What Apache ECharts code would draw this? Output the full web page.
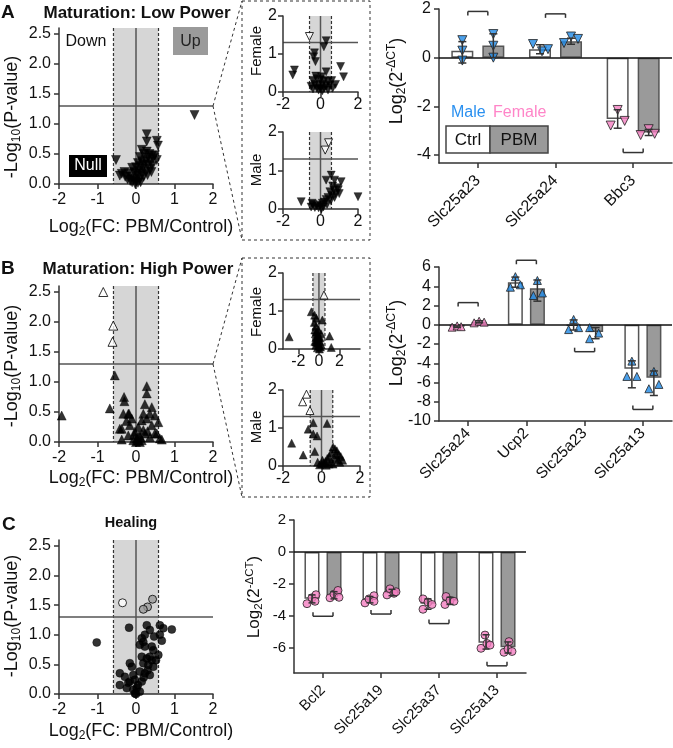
<!DOCTYPE html>
<html>
<head>
<meta charset="utf-8">
<title>Volcano and bar panels</title>
<script src="https://cdn.jsdelivr.net/npm/echarts@6.0.0/dist/echarts.min.js"></script>
<style>
html,body{margin:0;padding:0;background:#ffffff;}
#chart{width:673px;height:748px;}
</style>
</head>
<body>
<div id="chart"></div>
<script>
// ================= DATA =================
const FC_CUT = 0.585;   // log2(1.5)
const P_CUT = 1.3;      // -log10(0.05)

// ---- Panel A: Maturation, Low Power (volcano, all) ----
const volA = [[1.52,1.15],[-0.52,0.40],[0.28,0.83],[0.28,0.71],[0.54,0.72],[0.57,0.64],[0.15,0.57],[0.28,0.54],[0.20,0.50],[0.35,0.50],[0.41,0.47],[0.54,0.40],[0.45,0.43],[0.10,0.45],[0.32,0.44],[0.25,0.40],[0.38,0.37],[0.15,0.38],[0.05,0.35],[0.22,0.33],[0.30,0.32],[0.42,0.30],[0.12,0.30],[0.00,0.28],[-0.10,0.27],[0.18,0.26],[0.35,0.25],[0.08,0.22],[-0.05,0.20],[0.25,0.20],[-0.20,0.18],[0.15,0.17],[-0.37,0.17],[-0.28,0.12],[0.05,0.14],[-0.12,0.12],[0.20,0.12],[-0.22,0.08],[-0.05,0.08],[0.10,0.08],[0.00,0.05],[-0.15,0.05],[0.05,0.02],[-0.02,0.00],[0.12,0.03],[0.30,0.15],[0.40,0.20],[-0.30,0.20],[-0.42,0.14],[0.02,0.18],[-0.10,0.03],[0.49,0.48]];
const volA_female = [[0.30,1.35],[0.18,1.19],[-0.32,1.03],[-0.36,0.93],[-0.27,0.80],[-1.39,0.58],[-1.48,0.45],[1.07,0.67],[1.23,0.40],[0.30,0.53],[-0.40,0.30],[-0.20,0.35],[0.00,0.32],[0.20,0.30],[0.40,0.28],[0.60,0.30],[0.80,0.20],[-0.50,0.15],[-0.30,0.20],[-0.10,0.18],[0.10,0.20],[0.30,0.15],[0.50,0.18],[-0.20,0.10],[0.00,0.08],[0.20,0.10],[0.40,0.05],[-0.40,0.08],[0.10,0.03],[-0.10,0.05],[0.65,0.10],[-0.25,0.42],[0.05,0.40]];
const volA_female_sig = [[-0.59,1.46]];
const volA_male = [[0.57,0.88],[0.30,0.75],[0.75,0.75],[1.10,0.71],[2.00,0.32],[-1.03,0.19],[0.90,0.55],[0.70,0.50],[0.50,0.45],[0.80,0.40],[0.60,0.35],[1.00,0.40],[0.40,0.30],[0.30,0.25],[0.55,0.22],[0.20,0.18],[0.10,0.15],[0.35,0.12],[0.00,0.10],[-0.20,0.08],[-0.40,0.12],[-0.50,0.05],[-0.30,0.04],[-0.10,0.03],[0.15,0.05],[0.05,0.00],[0.75,0.30],[0.95,0.50],[0.65,0.60],[-0.45,0.15]];
const volA_male_sig = [[0.43,1.72],[0.25,1.53]];

// ---- Panel B: Maturation, High Power ----
const volB = [[-0.55,1.11],[-1.93,0.44],[-0.68,0.56],[-0.31,0.75],[-0.30,0.68],[0.28,0.93],[0.28,0.81],[0.23,0.63],[0.41,0.58],[-0.33,0.47],[-0.18,0.47],[0.36,0.47],[0.49,0.44],[-0.11,0.39],[0.15,0.36],[0.28,0.39],[0.58,0.33],[-0.42,0.22],[-0.16,0.28],[0.06,0.25],[0.41,0.28],[-0.03,0.17],[0.19,0.20],[0.49,0.14],[-0.20,0.11],[-0.37,0.04],[0.02,0.06],[0.15,0.03],[0.62,0.06],[0.36,0.08],[-0.07,0.03],[0.08,0.11],[0.23,0.14],[0.54,0.14],[0.67,0.04],[0.19,0.47],[-0.20,0.47],[-0.37,0.22],[0.00,0.00],[0.10,0.00],[-0.05,0.12],[0.12,0.08],[0.30,0.18],[-0.25,0.35],[0.05,0.02]];
const volB_sig = [[-0.85,2.50],[-0.59,1.94],[-0.61,1.67]];
const volB_female = [[-0.74,0.98],[-0.42,0.89],[-0.25,0.81],[0.33,0.76],[-2.90,0.32],[1.04,0.34],[1.20,0.04],[-0.30,0.60],[-0.40,0.50],[-0.20,0.45],[-0.35,0.40],[-0.10,0.35],[-0.30,0.30],[0.00,0.30],[-0.20,0.25],[-0.40,0.20],[0.10,0.20],[-0.10,0.15],[0.20,0.12],[-0.30,0.10],[0.00,0.08],[0.15,0.05],[-0.15,0.03],[0.05,0.00],[-0.05,0.50],[0.20,0.40],[-0.45,0.70],[-0.25,0.18],[0.10,0.30]];
const volB_female_sig = [[0.49,1.42]];
const volB_male = [[-0.43,1.14],[-0.69,0.97],[-0.43,0.84],[-0.23,0.79],[0.29,1.12],[-1.55,0.60],[-0.95,0.29],[-0.35,0.38],[0.60,0.50],[0.70,0.45],[0.80,0.40],[0.90,0.30],[1.00,0.25],[1.10,0.15],[0.50,0.35],[0.40,0.25],[0.30,0.20],[0.20,0.12],[0.10,0.08],[0.00,0.05],[-0.10,0.03],[0.25,0.02],[0.50,0.10],[0.70,0.20],[0.85,0.15],[-0.20,0.10],[0.05,0.15],[0.60,0.05],[0.40,0.05],[0.95,0.10],[0.75,0.30]];
const volB_male_sig = [[-0.78,1.89],[-0.98,1.69],[-0.60,1.46]];

// ---- Panel C: Healing ----
const volC = [[-0.18,1.12],[0.28,1.16],[0.62,1.16],[0.71,1.11],[0.93,1.09],[0.36,1.08],[0.23,1.00],[0.15,0.94],[0.19,0.88],[0.62,1.00],[-1.02,0.87],[0.10,0.83],[0.23,0.80],[0.45,0.74],[0.58,0.66],[0.15,0.63],[0.28,0.60],[0.41,0.57],[0.19,0.52],[0.32,0.49],[0.45,0.46],[-0.16,0.52],[-0.11,0.46],[0.10,0.38],[0.23,0.35],[0.36,0.32],[-0.07,0.32],[-0.42,0.35],[-0.16,0.21],[-0.03,0.24],[0.15,0.21],[-0.29,0.29],[-0.42,0.15],[-0.24,0.10],[-0.07,0.07],[0.02,0.10],[0.10,0.04],[-0.03,0.01],[-0.20,0.19],[0.41,0.80],[0.47,0.97],[0.67,0.90],[0.36,0.63],[0.52,0.57],[0.05,0.15],[0.20,0.28],[0.30,0.40],[0.00,0.00]];
const volC_sigDown = [[-0.35,1.54]];
const volC_sigUp = [[0.43,1.60],[0.30,1.47],[0.19,1.43]];

// ---- Bar panels: Log2(2^-dCT) ----
const barA_cats = ['Slc25a23','Slc25a24','Bbc3'];
const barA_ctrl = [0.28, 0.35, -2.52];
const barA_pbm  = [0.50, 0.67, -3.08];
const barA_ctrlErr = [[-0.22,0.66],[0.16,0.53],[-2.90,-2.14]];
const barA_pbmErr  = [[0.00,0.98],[0.55,0.80],[-3.20,-2.95]];
const barA_ctrlPts = [[0.72,0.29,-0.12],[0.56,0.26,0.35],[-2.79,-2.15,-2.60]];
const barA_pbmPts  = [[0.97,0.49,0.00],[0.60,0.87,0.77],[-3.18,-2.94,-3.13]];
const barA_sex = ['M','M','F'];
const barA_brackets = [1.90, 1.80, -3.90];

const barB_cats = ['Slc25a24','Ucp2','Slc25a23','Slc25a13'];
const barB_ctrl = [-0.20, 4.42, -0.10, -4.57];
const barB_pbm  = [0.30, 3.80, -0.75, -5.50];
const barB_ctrlErr = [[-0.28,-0.12],[3.90,4.95],[-0.55,0.50],[-6.55,-3.75]];
const barB_pbmErr  = [[0.20,0.42],[2.45,4.65],[-1.45,-0.30],[-7.35,-4.80]];
const barB_ctrlPts = [[-0.25,-0.12,-0.20],[3.90,5.00,4.15],[-0.50,0.55,-0.30],[-5.37,-3.78,-5.37]];
const barB_pbmPts  = [[0.20,0.37,0.27],[3.04,4.60,3.30],[-0.30,-1.45,-0.87],[-6.65,-4.85,-6.20]];
const barB_sex = ['F','M','M','M'];
const barB_brackets = [2.30, 6.70, -2.80, -8.80];

const barC_cats = ['Bcl2','Slc25a19','Slc25a37','Slc25a13'];
const barC_ctrl = [-2.94, -3.00, -3.25, -5.70];
const barC_pbm  = [-2.73, -2.60, -3.05, -5.98];
const barC_ctrlErr = [[-3.20,-2.70],[-3.20,-2.80],[-3.60,-2.95],[-6.10,-5.20]];
const barC_pbmErr  = [[-2.95,-2.50],[-2.75,-2.35],[-3.30,-2.85],[-6.35,-5.65]];
const barC_ctrlPts = [[-3.25,-2.88,-2.69,-3.10],[-3.20,-2.95,-2.75,-3.10],[-3.60,-2.95,-3.15,-3.30],[-6.05,-5.22,-5.75,-5.85]];
const barC_pbmPts  = [[-2.88,-2.65,-2.42,-2.85],[-2.70,-2.32,-2.60,-2.50],[-2.80,-3.30,-3.05,-3.10],[-6.30,-5.63,-6.10,-6.25]];
const barC_sex = ['F','F','F','F'];
const barC_brackets = [-4.04, -3.90, -4.50, -7.15];

// tick label values
const volX_ticks = [-2,-1,0,1,2];
const volY_ticks = [0,0.5,1,1.5,2,2.5];
const insetX_ticks = [-2,0,2];
const insetY_ticks = [0,1,2];
const barA_ticks = [-4,-2,0,2];
const barB_ticks = [-10,-8,-6,-4,-2,0,2,4,6];
const barC_ticks = [-6,-4,-2,0,2];

// ================= LAYOUT / STYLE =================
const FONT = 'Arial, "Liberation Sans", Helvetica, sans-serif';
const AX = '#333333';
const TXT = '#111111';
const BLUE = '#1E88E5', PINK = '#F47EC0';
const BAND = '#d6d6d6', PBM_FILL = '#9a9a9a';

// point jitter (pixel offsets from bar centre)
const jitA_c = [[0,0,0],[-7,2,8],[-7,0,7]];
const jitA_p = [[0,0,0],[-7,0,7],[-8,0,6]];
const jitB_c = [[-5,0,4],[-5,0,5],[-5,0,5],[-5,0,5]];
const jitB_p = [[-5,0,5],[-4,0,5],[-6,-6,3],[-5,0,5]];
const jitC_c = [[-5,0,4,3],[-5,-1,4,4],[-5,-5,0,4],[-5,-1,1,4]];
const jitC_p = [[-4,0,4,5],[-5,-2,2,4],[-4,-5,0,4],[-4,1,0,4]];

const grids = [], xAxes = [], yAxes = [], series = [];

function valAxis(gi, min, max, ticks, margin, fmt, fs) {
  return {
    gridIndex: gi, type: 'value', min: min, max: max, z: 2,
    axisLine: {show: true, onZero: false, lineStyle: {color: AX, width: 1.5}},
    axisTick: {show: true, length: 5, lineStyle: {color: AX, width: 1.5}, customValues: ticks},
    axisLabel: {show: true, customValues: ticks, fontSize: fs || 16, color: TXT, fontFamily: FONT,
                margin: margin, formatter: fmt || function (v) { return String(v); }},
    splitLine: {show: false}
  };
}

function volcano(box, cfg) {
  const gi = grids.length; grids.push(box);
  const xi = xAxes.length, yi = yAxes.length;
  xAxes.push(valAxis(gi, cfg.xMin, cfg.xMax, cfg.xTicks, cfg.xMargin));
  yAxes.push(valAxis(gi, 0, cfg.yMax, cfg.yTicks, cfg.yMargin, cfg.yFmt));
  const ax = {xAxisIndex: xi, yAxisIndex: yi};
  series.push(Object.assign({
    type: 'custom', z: 1, silent: true, clip: false, data: [[0, 0]],
    renderItem: function (p, api) {
      const tl = api.coord([-FC_CUT, cfg.yMax]), br = api.coord([FC_CUT, 0]);
      const h0 = api.coord([cfg.xMin, P_CUT]), h1 = api.coord([cfg.xMax, P_CUT]);
      const v0 = api.coord([0, 0]), v1 = api.coord([0, cfg.yMax]);
      const dash = {stroke: '#333', lineWidth: 1.2, lineDash: [3, 2]};
      const solid = {stroke: '#555', lineWidth: 1.5};
      return {type: 'group', children: [
        {type: 'rect', shape: {x: tl[0], y: tl[1], width: br[0] - tl[0], height: br[1] - tl[1]}, style: {fill: BAND}},
        {type: 'line', shape: {x1: tl[0], y1: tl[1], x2: tl[0], y2: br[1]}, style: dash},
        {type: 'line', shape: {x1: br[0], y1: tl[1], x2: br[0], y2: br[1]}, style: dash},
        {type: 'line', shape: {x1: v0[0], y1: v0[1], x2: v1[0], y2: v1[1]}, style: solid},
        {type: 'line', shape: {x1: h0[0], y1: h0[1], x2: h1[0], y2: h1[1]}, style: solid}
      ]};
    }
  }, ax));
  const sym = {symbol: 'triangle', symbolRotate: cfg.down ? 180 : 0, symbolSize: cfg.size};
  if (cfg.circle) { sym.symbol = 'circle'; sym.symbolRotate = 0; }
  series.push(Object.assign({type: 'scatter', z: 3, silent: true, data: cfg.pts,
    itemStyle: {color: '#000', borderColor: '#000', borderWidth: 0.5}}, sym, ax));
  if (cfg.sigDown) series.push(Object.assign({type: 'scatter', z: 3, silent: true, data: cfg.sigDown,
    itemStyle: {color: '#fff', borderColor: '#000', borderWidth: 1}}, sym, ax));
  if (cfg.sigUp) series.push(Object.assign({type: 'scatter', z: 3, silent: true, data: cfg.sigUp,
    itemStyle: {color: PBM_FILL, borderColor: '#000', borderWidth: 1}}, sym, ax));
}

function bars(box, cfg) {
  const gi = grids.length; grids.push(box);
  const xi = xAxes.length, yi = yAxes.length;
  xAxes.push({gridIndex: gi, type: 'category', data: cfg.cats, z: 2,
    axisLine: {show: true, onZero: false, lineStyle: {color: AX, width: 1.5}},
    axisTick: {show: true, alignWithLabel: true, length: 5, lineStyle: {color: AX, width: 1.5}},
    axisLabel: {interval: 0, rotate: 45, fontSize: cfg.catFs, color: TXT, fontFamily: FONT, margin: cfg.catMargin},
    splitLine: {show: false}});
  yAxes.push(valAxis(gi, cfg.yMin, cfg.yMax, cfg.yTicks, 8, null, cfg.tickFs));
  const ax = {xAxisIndex: xi, yAxisIndex: yi};
  series.push(Object.assign({type: 'bar', name: 'Ctrl', data: cfg.ctrl, barWidth: cfg.bw, barGap: cfg.gap, z: 2, silent: true,
    itemStyle: {color: '#fff', borderColor: '#555', borderWidth: 1.5},
    markLine: {silent: true, symbol: ['none', 'none'], label: {show: false}, animation: false,
      lineStyle: {color: '#111', width: 1.5, type: 'solid'}, data: [{yAxis: 0}]}}, ax));
  series.push(Object.assign({type: 'bar', name: 'PBM', data: cfg.pbm, barWidth: cfg.bw, barGap: cfg.gap, z: 2, silent: true,
    itemStyle: {color: PBM_FILL, borderColor: '#555', borderWidth: 1.5}}, ax));
  const pts = [];
  cfg.cats.forEach(function (c, i) {
    const col = cfg.sex[i] === 'M' ? BLUE : PINK;
    cfg.ctrlPts[i].forEach(function (v, j) { pts.push({value: [i, v], symbolOffset: [-cfg.half + cfg.jitC[i][j], 0], itemStyle: {color: col}}); });
    cfg.pbmPts[i].forEach(function (v, j) { pts.push({value: [i, v], symbolOffset: [cfg.half + cfg.jitP[i][j], 0], itemStyle: {color: col}}); });
  });
  series.push(Object.assign({type: 'scatter', z: 5, silent: true, data: pts,
    symbol: cfg.symbol, symbolRotate: cfg.rot, symbolSize: cfg.size,
    itemStyle: {borderColor: '#222', borderWidth: 1}}, ax));
  const eb = [];
  cfg.cats.forEach(function (c, i) {
    eb.push([i, cfg.ctrlErr[i][0], cfg.ctrlErr[i][1], -1]);
    eb.push([i, cfg.pbmErr[i][0], cfg.pbmErr[i][1], 1]);
  });
  const ls = {stroke: '#333', lineWidth: 1.5};
  series.push(Object.assign({type: 'custom', z: 6, silent: true, clip: false, data: eb,
    renderItem: function (p, api) {
      const i = api.value(0);
      const a = api.coord([i, api.value(1)]), b = api.coord([i, api.value(2)]);
      const x = a[0] + api.value(3) * cfg.half, w = cfg.cap;
      return {type: 'group', children: [
        {type: 'line', shape: {x1: x, y1: a[1], x2: x, y2: b[1]}, style: ls},
        {type: 'line', shape: {x1: x - w, y1: a[1], x2: x + w, y2: a[1]}, style: ls},
        {type: 'line', shape: {x1: x - w, y1: b[1], x2: x + w, y2: b[1]}, style: ls}
      ]};
    }}, ax));
  const br = cfg.brackets.map(function (y, i) { return [i, y]; });
  series.push(Object.assign({type: 'custom', z: 6, silent: true, clip: false, data: br,
    renderItem: function (p, api) {
      const c = api.coord([api.value(0), api.value(1)]);
      const d = api.value(1) > 0 ? 4 : -4;
      const x0 = c[0] - 10, x1 = c[0] + 10, y = c[1];
      return {type: 'group', children: [
        {type: 'line', shape: {x1: x0, y1: y, x2: x1, y2: y}, style: ls},
        {type: 'line', shape: {x1: x0, y1: y, x2: x0, y2: y + d}, style: ls},
        {type: 'line', shape: {x1: x1, y1: y, x2: x1, y2: y + d}, style: ls}
      ]};
    }}, ax));
}

const f1 = function (v) { return v.toFixed(1); };

// Panel A
volcano({left: 59, top: 28, width: 154, height: 156},
  {xMin: -2, xMax: 2, xTicks: volX_ticks, yMax: 2.6, yTicks: volY_ticks, xMargin: 8, yMargin: 8, yFmt: f1,
   pts: volA, down: true, size: 9});
volcano({left: 283, top: 16, width: 75, height: 76},
  {xMin: -2, xMax: 2, xTicks: insetX_ticks, yMax: 2, yTicks: insetY_ticks, xMargin: 5, yMargin: 6,
   pts: volA_female, sigDown: volA_female_sig, down: true, size: 8});
volcano({left: 283, top: 132, width: 75, height: 77},
  {xMin: -2, xMax: 2, xTicks: insetX_ticks, yMax: 2, yTicks: insetY_ticks, xMargin: 5, yMargin: 6,
   pts: volA_male, sigDown: volA_male_sig, down: true, size: 8});
bars({left: 439, top: 9, width: 233, height: 154},
  {cats: barA_cats, ctrl: barA_ctrl, pbm: barA_pbm, ctrlErr: barA_ctrlErr, pbmErr: barA_pbmErr,
   ctrlPts: barA_ctrlPts, pbmPts: barA_pbmPts, sex: barA_sex, brackets: barA_brackets,
   yMin: -4.33, yMax: 2, yTicks: barA_ticks, bw: 22, gap: '41%', half: 15.5, cap: 4,
   catFs: 16, catMargin: 15, tickFs: 16,
   jitC: jitA_c, jitP: jitA_p, symbol: 'triangle', rot: 180, size: 9});

// Panel B
volcano({left: 59, top: 286, width: 154, height: 156},
  {xMin: -2, xMax: 2, xTicks: volX_ticks, yMax: 2.6, yTicks: volY_ticks, xMargin: 8, yMargin: 8, yFmt: f1,
   pts: volB, sigDown: volB_sig, down: false, size: 9});
volcano({left: 283, top: 273, width: 77, height: 76},
  {xMin: -3.5, xMax: 4, xTicks: insetX_ticks, yMax: 2, yTicks: insetY_ticks, xMargin: 5, yMargin: 6,
   pts: volB_female, sigDown: volB_female_sig, down: false, size: 8});
volcano({left: 283, top: 390, width: 77, height: 76},
  {xMin: -2, xMax: 2, xTicks: insetX_ticks, yMax: 2, yTicks: insetY_ticks, xMargin: 5, yMargin: 6,
   pts: volB_male, sigDown: volB_male_sig, down: false, size: 8});
bars({left: 439, top: 267, width: 233, height: 154},
  {cats: barB_cats, ctrl: barB_ctrl, pbm: barB_pbm, ctrlErr: barB_ctrlErr, pbmErr: barB_pbmErr,
   ctrlPts: barB_ctrlPts, pbmPts: barB_pbmPts, sex: barB_sex, brackets: barB_brackets,
   yMin: -10, yMax: 6, yTicks: barB_ticks, bw: 15, gap: '47%', half: 11, cap: 4,
   catFs: 15.5, catMargin: 10, tickFs: 16,
   jitC: jitB_c, jitP: jitB_p, symbol: 'triangle', rot: 0, size: 8});

// Panel C
volcano({left: 59, top: 540, width: 154, height: 154},
  {xMin: -2, xMax: 2, xTicks: volX_ticks, yMax: 2.6, yTicks: volY_ticks, xMargin: 8, yMargin: 8, yFmt: f1,
   pts: volC, sigDown: volC_sigDown, sigUp: volC_sigUp, circle: true, size: 8});
bars({left: 294, top: 520, width: 232, height: 153},
  {cats: barC_cats, ctrl: barC_ctrl, pbm: barC_pbm, ctrlErr: barC_ctrlErr, pbmErr: barC_pbmErr,
   ctrlPts: barC_ctrlPts, pbmPts: barC_pbmPts, sex: barC_sex, brackets: barC_brackets,
   yMin: -7.6, yMax: 2, yTicks: barC_ticks, bw: 15, gap: '47%', half: 11, cap: 3.5,
   catFs: 15, catMargin: 15, tickFs: 15,
   jitC: jitC_c, jitP: jitC_p, symbol: 'circle', rot: 0, size: 8});

// ================= ANNOTATIONS =================
function richSet(fs, sub) {
  return {
    t: {fontSize: fs, lineHeight: fs + 4, fontFamily: FONT, fill: TXT},
    s: {fontSize: sub, fontFamily: FONT, fill: TXT, verticalAlign: 'bottom'},
    p: {fontSize: sub, fontFamily: FONT, fill: TXT, verticalAlign: 'top'}
  };
}
const RICH = richSet(18, 12);
const RICH_C = richSet(17, 11.5);
function txt(x, y, text, o) {
  o = o || {};
  const el = {type: 'text', x: x, y: y, silent: true, rotation: o.rot || 0, z: 10,
    style: {text: text, fontSize: o.size || 15, fontWeight: o.bold ? 'bold' : 'normal', fontFamily: FONT,
      fill: o.color || TXT, align: o.align || 'center', verticalAlign: 'middle',
      textAlign: o.align || 'center', textVerticalAlign: 'middle'}};
  if (o.rich) el.style.rich = o.rich;
  return el;
}
function rect(x, y, w, h, fill, stroke, dash) {
  return {type: 'rect', silent: true, z: 9, shape: {x: x, y: y, width: w, height: h},
    style: {fill: fill, stroke: stroke || null, lineWidth: stroke ? (dash ? 1 : 1.5) : 0, lineDash: dash || null}};
}
function dline(x1, y1, x2, y2) {
  return {type: 'line', silent: true, z: 9, shape: {x1: x1, y1: y1, x2: x2, y2: y2},
    style: {stroke: '#333', lineWidth: 1, lineDash: [3, 3]}};
}
const VY = '{t|-Log}{s|10}{t|(P-value)}';
const VX = '{t|Log}{s|2}{t|(FC: PBM/Control)}';
const BY = '{t|Log}{s|2}{t|(2}{p|-ΔCT}{t|)}';
const R90 = Math.PI / 2;

const graphic = [
  // panel letters and titles
  txt(1, 13, 'A', {bold: true, size: 19, align: 'left'}),
  txt(137, 13, 'Maturation: Low Power', {bold: true, size: 17}),
  txt(1, 269, 'B', {bold: true, size: 19, align: 'left'}),
  txt(138, 269, 'Maturation: High Power', {bold: true, size: 17}),
  txt(2, 525, 'C', {bold: true, size: 19, align: 'left'}),
  txt(131, 523, 'Healing', {bold: true, size: 14.5}),
  // axis titles
  txt(12, 117, VY, {rich: RICH, rot: R90}),
  txt(12, 366, VY, {rich: RICH, rot: R90}),
  txt(12, 616, VY, {rich: RICH, rot: R90}),
  txt(141, 227, VX, {rich: RICH}),
  txt(141, 478, VX, {rich: RICH}),
  txt(141, 731, VX, {rich: RICH}),
  txt(397, 81, BY, {rich: RICH, rot: R90}),
  txt(397, 343, BY, {rich: RICH, rot: R90}),
  txt(254, 597, BY, {rich: RICH_C, rot: R90}),
  txt(257, 51, 'Female', {rot: R90}),
  txt(257, 170, 'Male', {rot: R90}),
  txt(257, 312, 'Female', {rot: R90}),
  txt(257, 427, 'Male', {rot: R90}),
  // region labels in A
  txt(86, 42, 'Down', {size: 16}),
  rect(173, 27, 35, 28, PBM_FILL),
  txt(190.5, 41.5, 'Up', {color: '#222', size: 16}),
  rect(69, 155, 38, 22, '#000'),
  txt(88, 166, 'Null', {color: '#fff', size: 16}),
  // inset boxes and connectors
  rect(242, 1, 128, 239, 'none', '#333', [3, 3]),
  rect(242, 258, 128, 239, 'none', '#333', [3, 3]),
  dline(213, 106, 242, 1), dline(213, 106, 242, 240),
  dline(213, 364, 242, 258), dline(213, 364, 242, 497),
  // bar legend in A
  txt(451, 113, 'Male', {color: '#2A90F0', size: 16, align: 'left'}),
  txt(493, 113, 'Female', {color: '#FF85C8', size: 16, align: 'left'}),
  rect(446, 126, 44, 27, '#fff', '#444'),
  rect(490, 126, 58, 27, PBM_FILL, '#444'),
  txt(468, 140, 'Ctrl', {size: 17}),
  txt(519, 140, 'PBM', {size: 17})
];

const chart = echarts.init(document.getElementById('chart'), null, {renderer: 'canvas'});
chart.setOption({
  animation: false,
  backgroundColor: '#ffffff',
  textStyle: {fontFamily: FONT},
  grid: grids,
  xAxis: xAxes,
  yAxis: yAxes,
  series: series,
  graphic: graphic
});
</script>
</body>
</html>
